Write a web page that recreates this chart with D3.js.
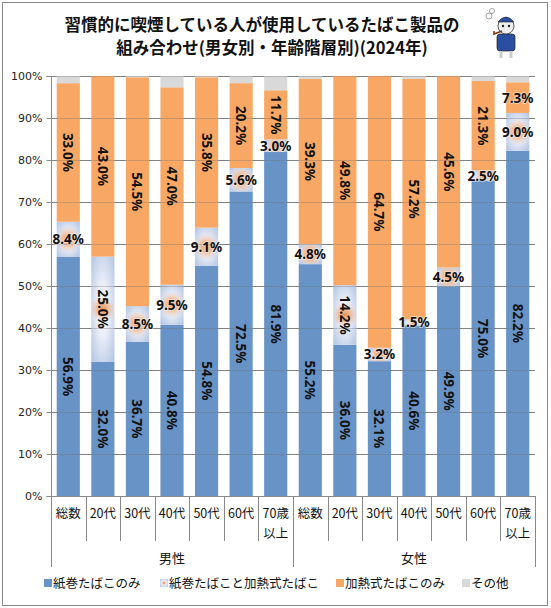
<!DOCTYPE html>
<html><head><meta charset="utf-8">
<script src="https://cdn.jsdelivr.net/npm/d3@7"></script>
<style>body{margin:0;background:#fff}</style>
</head><body>
<svg id="c" width="551" height="608"></svg>
<script>
const categories = ["総数","20代","30代","40代","50代","60代","70歳以上","総数","20代","30代","40代","50代","60代","70歳以上"];
const groups = ["男性","女性"];
const seriesNames = ["紙巻たばこのみ","紙巻たばこと加熱式たばこ","加熱式たばこのみ","その他"];
const cigOnly   = [56.9,32.0,36.7,40.8,54.8,72.5,81.9, 55.2,36.0,32.1,40.6,49.9,75.0,82.2];
const both      = [8.4,25.0,8.5,9.5,9.1,5.6,3.0, 4.8,14.2,3.2,1.5,4.5,2.5,9.0];
const heatOnly  = [33.0,43.0,54.5,47.0,35.8,20.2,11.7, 39.3,49.8,64.7,57.2,45.6,21.3,7.3];
const yTicks = [0,10,20,30,40,50,60,70,80,90,100];

const svg = d3.select("#c");
const CJK = "'Noto Sans CJK JP','Noto Sans',sans-serif";
const colors = ["#6893c6","url(#mix)","#f8a864","#d9d9d9"];

const defs = svg.append("defs");
const rg = defs.append("radialGradient").attr("id","mix").attr("cx","50%").attr("cy","50%").attr("r","65%");
rg.append("stop").attr("offset","0%").attr("stop-color","#f6f3f4");
rg.append("stop").attr("offset","35%").attr("stop-color","#eef1f8");
rg.append("stop").attr("offset","100%").attr("stop-color","#b7c8e5");

// outer border
svg.append("rect").attr("x",2.5).attr("y",2.5).attr("width",545).attr("height",603)
  .attr("fill","none").attr("stroke","#888").attr("stroke-width",1);

// title
const title = svg.append("text").attr("text-anchor","middle").attr("font-family",CJK)
  .attr("font-weight","bold").attr("font-size",16.5).attr("fill","#111");
title.append("tspan").attr("x",262).attr("y",31).text("習慣的に喫煙している人が使用しているたばこ製品の");
title.append("tspan").attr("x",272).attr("y",54).text("組み合わせ(男女別・年齢階層別)(2024年)");

const x = d3.scaleBand().domain(d3.range(categories.length)).range([51,535]).paddingInner(0.33).paddingOuter(0.165);
const y = d3.scaleLinear().domain([0,100]).range([496,76]);

// gridlines under
const grid = svg.append("g");
grid.selectAll("line").data(yTicks.filter(d=>d>0)).join("line")
  .attr("x1",51).attr("x2",535).attr("y1",d=>Math.round(y(d))+0.5).attr("y2",d=>Math.round(y(d))+0.5)
  .attr("stroke","#8c8c8c");

// stacked data
const rows = categories.map((c,i)=>({i, v:[cigOnly[i], both[i], heatOnly[i], Math.max(0, 100-cigOnly[i]-both[i]-heatOnly[i])]}));
const stacked = d3.stack().keys([0,1,2,3]).value((d,k)=>d.v[k])(rows);

const bars = svg.append("g");
stacked.forEach((layer,k)=>{
  bars.append("g").attr("fill",colors[k]).selectAll("rect").data(layer).join("rect")
    .attr("x",d=>x(d.data.i)).attr("width",x.bandwidth())
    .attr("y",d=>y(Math.min(100,d[1]))).attr("height",d=>Math.max(0,y(d[0])-y(Math.min(100,d[1]))));
});
// orange glow overlay for the mixed series
stacked[1].forEach((d,j)=>{
  const cx = x(d.data.i)+x.bandwidth()/2, cy = (y(d[0])+y(d[1]))/2;
  const h = y(d[0])-y(d[1]);
  const r = Math.min(13, Math.max(6, h*0.8));
  const g = defs.append("radialGradient").attr("id","glow"+j).attr("gradientUnits","userSpaceOnUse")
    .attr("cx",cx).attr("cy",cy).attr("r",r);
  g.append("stop").attr("offset","0%").attr("stop-color","#ec9050").attr("stop-opacity",1);
  g.append("stop").attr("offset","45%").attr("stop-color","#f0a878").attr("stop-opacity",0.7);
  g.append("stop").attr("offset","100%").attr("stop-color","#f4c8b0").attr("stop-opacity",0);
  bars.append("rect").attr("x",x(d.data.i)).attr("width",x.bandwidth()).attr("y",y(d[1])).attr("height",h)
    .attr("fill",`url(#glow${j})`);
});

// gridlines over (faint)
svg.append("g").selectAll("line").data(yTicks.filter(d=>d>0)).join("line")
  .attr("x1",51).attr("x2",535).attr("y1",d=>Math.round(y(d))+0.5).attr("y2",d=>Math.round(y(d))+0.5)
  .attr("stroke","#6f6f6f").attr("stroke-opacity",0.35);

// y axis
const yAxis = d3.axisLeft(y).tickValues(yTicks).tickFormat(d=>d+"%").tickSize(5).tickPadding(4);
const ya = svg.append("g").attr("transform","translate(51.5,0)").call(yAxis);
ya.select(".domain").attr("stroke","#888").attr("d","M-5,496.5H0V76.5H-5");
ya.selectAll(".tick line").attr("stroke","#888");
ya.selectAll(".tick text").attr("font-family","'DejaVu Sans',sans-serif").attr("font-size",11).attr("fill","#222");
svg.append("line").attr("x1",51).attr("x2",535).attr("y1",496.5).attr("y2",496.5).attr("stroke","#888");

// data labels
const labels = svg.append("g").attr("font-family","'Noto Sans',sans-serif").attr("font-weight","bold")
  .attr("font-size",13.5).attr("fill","#111");
stacked.slice(0,3).forEach((layer,k)=>{
  layer.forEach(d=>{
    const val = d.data.v[k];
    const cx = x(d.data.i)+x.bandwidth()/2;
    const cy = (y(d[0])+y(d[1]))/2;
    const t = labels.append("text").text(val.toFixed(1)+"%").attr("dominant-baseline","central").attr("text-anchor","middle");
    if (val >= 11) {
      t.attr("transform",`translate(${cx},${cy}) rotate(90)`);
    } else {
      t.attr("x",cx).attr("y",cy).attr("paint-order","stroke").attr("stroke","rgba(255,255,255,0.45)").attr("stroke-width",2);
    }
  });
});

// x axis category labels and dividers
const xa = svg.append("g");
const bounds = d3.range(categories.length+1).map(i=> i===0 ? 51 : (i===categories.length ? 535 : x(i)-x.step()*x.paddingInner()/2));
bounds.forEach((b,i)=>{
  const long = (i===0 || i===7 || i===14);
  xa.append("line").attr("x1",Math.round(b)+0.5).attr("x2",Math.round(b)+0.5).attr("y1",496).attr("y2",long?567:541).attr("stroke","#888");
});
categories.forEach((c,i)=>{
  const cx = x(i)+x.bandwidth()/2;
  const t = xa.append("text").attr("text-anchor","middle").attr("font-family",CJK).attr("font-size",12.5).attr("fill","#111");
  if (c.length > 3) {
    t.append("tspan").attr("x",cx).attr("y",518).text(c.slice(0,3));
    t.append("tspan").attr("x",cx).attr("y",538).text(c.slice(3));
  } else {
    t.attr("x",cx).attr("y",518).text(c);
  }
});
groups.forEach((g,j)=>{
  const cx = (bounds[j*7]+bounds[j*7+7])/2;
  xa.append("text").attr("x",cx).attr("y",563).attr("text-anchor","middle").attr("font-family",CJK)
    .attr("font-size",13).attr("fill","#111").text(g);
});

// legend
const legX = [44,160,336,462];
const leg = svg.append("g");
seriesNames.forEach((s,k)=>{
  leg.append("rect").attr("x",legX[k]).attr("y",579).attr("width",8).attr("height",8).attr("fill",colors[k]);
  leg.append("text").attr("x",legX[k]+9).attr("y",588).attr("font-family",CJK).attr("font-size",12.5).attr("fill","#111").text(s);
});
leg.append("circle").attr("cx",164).attr("cy",583).attr("r",1.5).attr("fill","#f0a070");

// simple mascot
const m = svg.append("g").attr("transform","translate(506,32)");
m.append("rect").attr("x",-9).attr("y",2).attr("width",18).attr("height",17).attr("rx",3).attr("fill","#2a4fa0").attr("stroke","#222").attr("stroke-width",0.7);
m.append("circle").attr("cx",0).attr("cy",-6).attr("r",8).attr("fill","#eee").attr("stroke","#333").attr("stroke-width",0.8);
m.append("path").attr("d","M-8,-10 Q0,-20 8,-10 Z").attr("fill","#2a4fa0").attr("stroke","#222").attr("stroke-width",0.6);
m.append("circle").attr("cx",-3).attr("cy",-6).attr("r",1.2).attr("fill","#222");
m.append("circle").attr("cx",3).attr("cy",-6).attr("r",1.2).attr("fill","#222");
m.append("path").attr("d","M-4,-1 L-12,2 L-12,-1").attr("stroke","#7a3b1a").attr("stroke-width",1.6).attr("fill","none");
m.append("circle").attr("cx",-17).attr("cy",-16).attr("r",3).attr("fill","none").attr("stroke","#888").attr("stroke-width",0.8);
m.append("circle").attr("cx",-14).attr("cy",-21).attr("r",2.5).attr("fill","none").attr("stroke","#888").attr("stroke-width",0.8);
m.append("line").attr("x1",-5).attr("x2",-5).attr("y1",19).attr("y2",26).attr("stroke","#ccc").attr("stroke-width",3);
m.append("line").attr("x1",5).attr("x2",5).attr("y1",19).attr("y2",26).attr("stroke","#ccc").attr("stroke-width",3);
</script>
</body></html>
